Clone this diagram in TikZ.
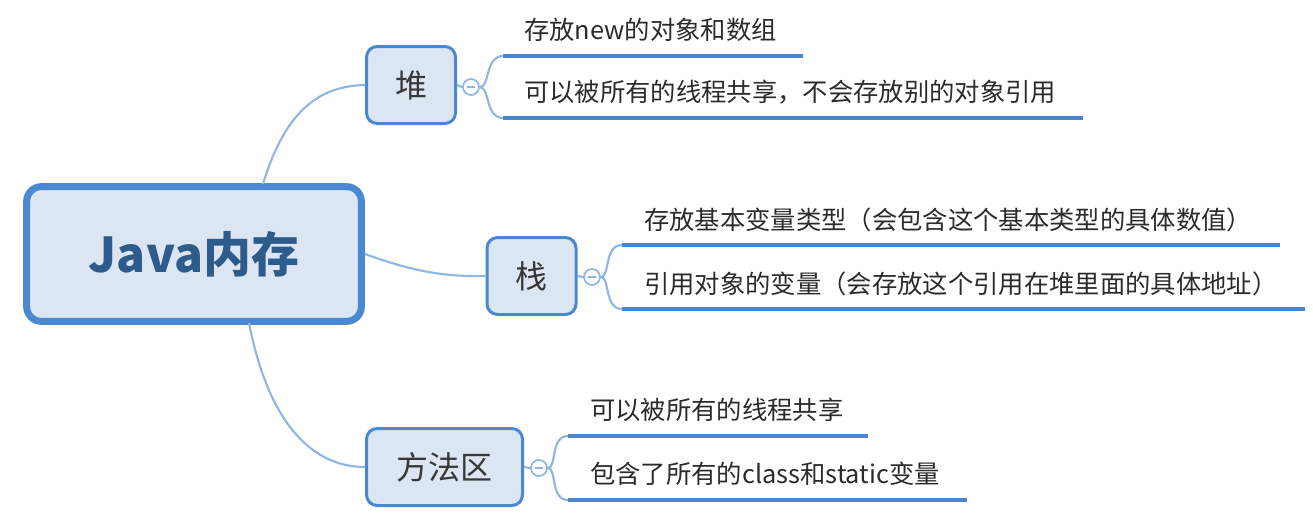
\documentclass[tikz,border=0pt]{standalone}
\usepackage{fontspec}
\setmainfont{Noto Sans CJK SC}
\usetikzlibrary{positioning}
\definecolor{boxfill}{HTML}{DCE6F2}
\definecolor{boxline}{HTML}{4A89D2}
\definecolor{linkblue}{HTML}{8FB6E4}
\definecolor{ulblue}{HTML}{4A86CF}
\definecolor{maintext}{HTML}{2D5B8C}
\definecolor{leaftext}{HTML}{2B2B2B}
\tikzset{rootbox/.style={draw=boxline,line width=5.25pt,rounded corners=11pt,fill=boxfill,minimum width=251pt,minimum height=101pt,font=\fontsize{36}{40}\selectfont\bfseries,text=maintext},topic/.style={draw=boxline,line width=2.25pt,rounded corners=8pt,fill=boxfill,minimum width=66.75pt,minimum height=57.75pt,font=\fontsize{24}{28}\selectfont,text=black!78},fold/.style={draw=linkblue,circle,line width=1.3pt,minimum size=12pt,inner sep=0pt,fill=white,path picture={\draw[linkblue,line width=1pt] ([xshift=-3pt]path picture bounding box.center)--([xshift=3pt]path picture bounding box.center);}},link/.style={draw=linkblue,line width=1.6pt},uline/.style={draw=ulblue,line width=3pt},leaf/.style={anchor=west,inner sep=0pt,font=\fontsize{19}{22}\selectfont,text=leaftext}}

\begin{document}
\begin{tikzpicture}[x=0.75pt,y=-0.75pt]
\useasboundingbox (0,0) rectangle (1313,514);
% main topic and its three branches
\node[rootbox] (mem) at (194,254) {Java内存};
\node[topic] (heap) at (411,85) {堆};
\node[topic] (stack) at (531.5,276) {栈};
\node[topic,minimum width=117pt] (method) at (444.5,467) {方法区};
\draw[link] (263,184) .. controls (285,112) and (318,86) .. (heap.west);
\draw[link] (mem.east) .. controls (410,270) and (440,277) .. (stack.west);
\draw[link] (249,323) .. controls (268,420) and (310,467) .. (method.west);
% fold markers
\node[fold] (heapfold) at (471,87) {};
\node[fold] (stackfold) at (592,277) {};
\node[fold] (methodfold) at (539,468) {};
\draw[link] (heap.east)--(heapfold.west);
\draw[link] (stack.east)--(stackfold.west);
\draw[link] (method.east)--(methodfold.west);
% underlines of the leaves
\coordinate (heapa) at (503,56); \coordinate (heapa2) at (803,56);
\coordinate (heapb) at (503,118); \coordinate (heapb2) at (1083,118);
\coordinate (stacka) at (622,245); \coordinate (stacka2) at (1280,245);
\coordinate (stackb) at (622,309); \coordinate (stackb2) at (1305,309);
\coordinate (methoda) at (568,436); \coordinate (methoda2) at (868,436);
\coordinate (methodb) at (568,500); \coordinate (methodb2) at (967,500);
\draw[uline] (heapa)--(heapa2); \draw[uline] (heapb)--(heapb2);
\draw[uline] (stacka)--(stacka2); \draw[uline] (stackb)--(stackb2);
\draw[uline] (methoda)--(methoda2); \draw[uline] (methodb)--(methodb2);
\draw[link] (heapfold.east) .. controls (490,87) and (485,56) .. (heapa);
\draw[link] (heapfold.east) .. controls (490,87) and (485,118) .. (heapb);
\draw[link] (stackfold.east) .. controls (610,277) and (604,245) .. (stacka);
\draw[link] (stackfold.east) .. controls (610,277) and (604,309) .. (stackb);
\draw[link] (methodfold.east) .. controls (557,468) and (550,436) .. (methoda);
\draw[link] (methodfold.east) .. controls (557,468) and (550,500) .. (methodb);
% leaf texts
\node[leaf] (heaptxta) at (524,30) {存放new的对象和数组};
\node[leaf] (heaptxtb) at (524,92) {可以被所有的线程共享，不会存放别的对象引用};
\node[leaf] (stacktxta) at (644,220) {存放基本变量类型（会包含这个基本类型的具体数值）};
\node[leaf] (stacktxtb) at (644,284) {引用对象的变量（会存放这个引用在堆里面的具体地址）};
\node[leaf] (methodtxta) at (590,410) {可以被所有的线程共享};
\node[leaf] (methodtxtb) at (590,474) {包含了所有的class和static变量};
\end{tikzpicture}
\end{document}
